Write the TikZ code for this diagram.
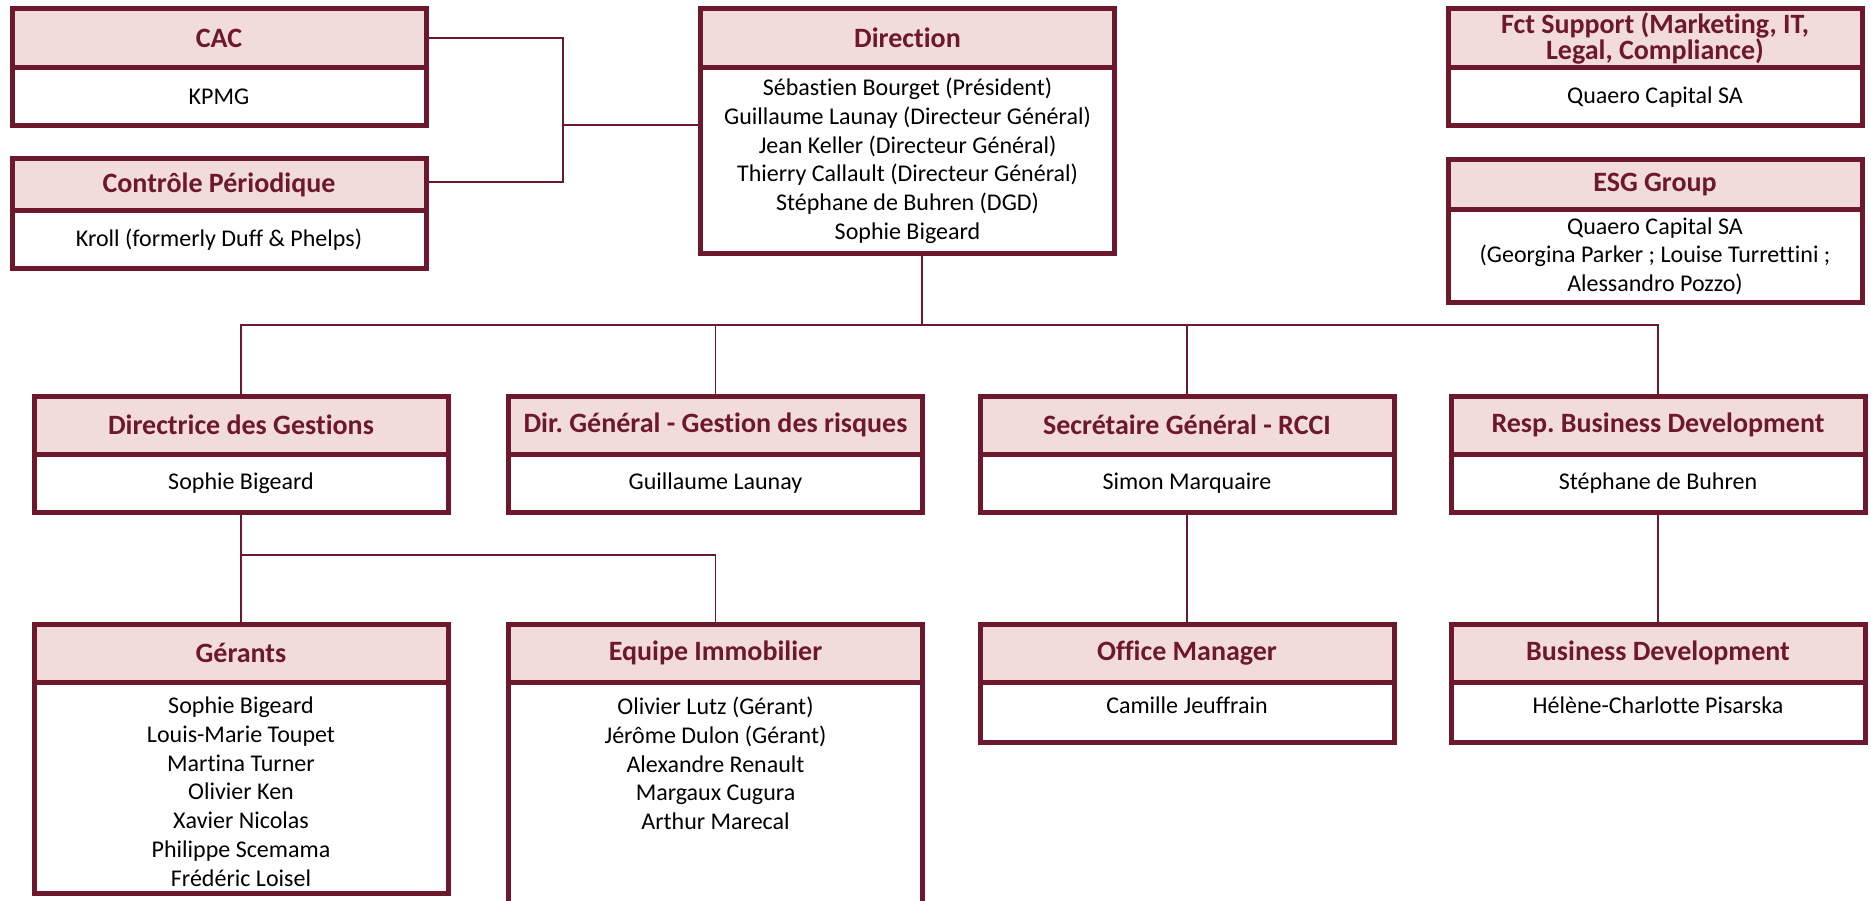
\documentclass[tikz,border=0pt]{standalone}
\usepackage{fontspec}
\setmainfont{Carlito}[Ligatures=NoCommon]
\frenchspacing
\usetikzlibrary{positioning}
\definecolor{orgred}{RGB}{110,24,45}
\definecolor{orgpink}{RGB}{242,220,219}
\tikzset{
  orgline/.style={draw=orgred, line width=5pt, outer sep=0pt, inner sep=0pt},
  head/.style={orgline, fill=orgpink, text=orgred, align=center,
    font=\fontsize{28}{24}\selectfont\bfseries, minimum width=414pt, minimum height=59.5pt},
  body/.style={orgline, fill=white, align=center,
    font=\fontsize{24}{28.7}\selectfont, minimum width=414pt},
  names/.style={anchor=north, align=center, inner sep=0pt,
    font=\fontsize{24}{28.7}\selectfont},
  link/.style={draw=orgred, line width=1.8pt},
}
\begin{document}
\begin{tikzpicture}[x=1pt,y=-1pt]
\useasboundingbox (0,0) rectangle (1871,901);

% Top row: audit, direction, support
\node[head] (cac) at (219,38.25) {CAC};
\node[body, minimum height=58pt, below=0pt of cac] (cacb) {KPMG};
\node[head, minimum height=52.5pt] (ctl) at (219,184.75) {Contrôle Périodique};
\node[body, minimum height=57.5pt, below=0pt of ctl] (ctlb) {Kroll (formerly Duff \& Phelps)};

\node[head] (dir) at (907.5,38.25) {Direction};
\node[body, minimum height=185.5pt, below=0pt of dir] (dirb) {Sébastien Bourget (Président)\\
  Guillaume Launay (Directeur Général)\\ Jean Keller (Directeur Général)\\
  Thierry Callault (Directeur Général)\\ Stéphane de Buhren (DGD)\\ Sophie Bigeard};

\node[head] (fct) at (1655,38.25) {Fct Support (Marketing, IT,\\Legal, Compliance)};
\node[body, minimum height=58pt, below=0pt of fct] (fctb) {Quaero Capital SA};
\node[head, minimum height=50.5pt] (esg) at (1655,184.75) {ESG Group};
\node[body, minimum height=92.5pt, below=0pt of esg] (esgb) {Quaero Capital SA\\
  (Georgina Parker ; Louise Turrettini ;\\ Alessandro Pozzo)};

% Second row
\node[head, minimum height=57.5pt] (dg) at (241,425.25) {Directrice des Gestions};
\node[body, minimum height=58.5pt, below=0pt of dg] (dgb) {Sophie Bigeard};
\node[head, minimum height=57.5pt] (dr) at (715.5,425.25) {Dir. Général - Gestion des risques};
\node[body, minimum height=58.5pt, below=0pt of dr] (drb) {Guillaume Launay};
\node[head, minimum height=57.5pt] (sg) at (1187,425.25) {Secrétaire Général - RCCI};
\node[body, minimum height=58.5pt, below=0pt of sg] (sgb) {Simon Marquaire};
\node[head, minimum height=57.5pt] (rb) at (1658,425.25) {Resp. Business Development};
\node[body, minimum height=58.5pt, below=0pt of rb] (rbb) {Stéphane de Buhren};

% Third row
\node[head, minimum height=57.5pt] (ger) at (241,653.25) {Gérants};
\node[body, minimum height=211.5pt, below=0pt of ger] (gerb) {};
\node[names] (gern) at (241,697) {Sophie Bigeard\\ Louis-Marie Toupet\\ Martina Turner\\
  Olivier Ken\\ Xavier Nicolas\\ Philippe Scemama\\ Frédéric Loisel};
\node[head, minimum height=57.5pt] (eq) at (715.5,653.25) {Equipe Immobilier};
\node[body, minimum height=240pt, below=0pt of eq] (eqb) {};
\node[names] (eqn) at (715.5,697) {Olivier Lutz (Gérant)\\ Jérôme Dulon (Gérant)\\
  Alexandre Renault\\ Margaux Cugura\\ Arthur Marecal};
\node[head, minimum height=57.5pt] (off) at (1187,653.25) {Office Manager};
\node[body, minimum height=60.5pt, below=0pt of off] (offb) {};
\node[names] (offn) at (1187,697) {Camille Jeuffrain};
\node[head, minimum height=57.5pt] (bd) at (1658,653.25) {Business Development};
\node[body, minimum height=60.5pt, below=0pt of bd] (bdb) {};
\node[names] (bdn) at (1658,697) {Hélène-Charlotte Pisarska};

% Connectors
\coordinate (sidej) at (563,125);
\draw[link] (cac.east) -| (sidej);
\draw[link] ([yshift=3pt]ctl.east) -| (sidej);
\draw[link] (sidej) -- (sidej -| dirb.west);
\coordinate (rail) at (922,325);
\draw[link] (rail |- dirb.south) -- (rail);
\foreach \n in {dg,dr,sg,rb}
  \draw[link] (\n.north) |- (rail);
\coordinate (rail2) at (241,555);
\draw[link] (dgb.south) -- (ger.north);
\draw[link] (eq.north) |- (rail2);
\draw[link] (sgb.south) -- (off.north);
\draw[link] (rbb.south) -- (bd.north);

\end{tikzpicture}
\end{document}
